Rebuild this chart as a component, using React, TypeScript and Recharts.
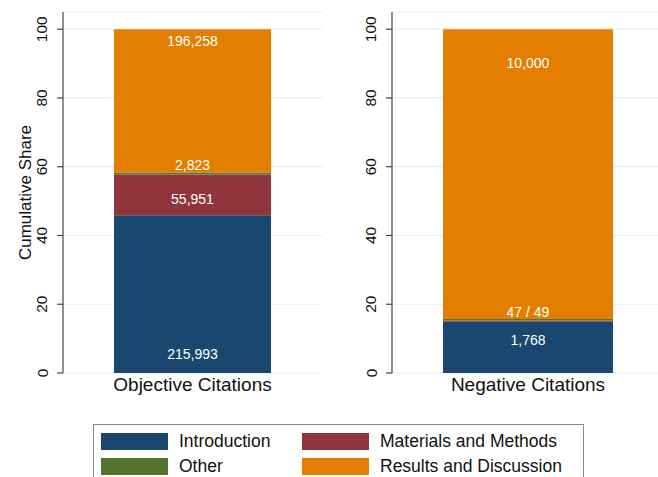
import { BarChart, Bar, XAxis, YAxis, CartesianGrid, LabelList } from "recharts";

const categories = ["Objective Citations", "Negative Citations"];
const introduction = [215993, 1768];
const methods = [55951, 47];
const other = [2823, 49];
const results = [196258, 10000];
const yTicks = [0, 20, 40, 60, 80, 100];

const fmt = (n: number) => n.toLocaleString("en-US");
const introLabels = introduction.map(fmt);
const methodsLabels = [fmt(methods[0]), ""];
const otherLabels = [fmt(other[0]), `${methods[1]} / ${other[1]}`];
const resultsLabels = results.map(fmt);

const series = [
  { key: "introduction", name: "Introduction", color: "#1a476f", counts: introduction, labels: introLabels },
  { key: "methods", name: "Materials and Methods", color: "#90353b", counts: methods, labels: methodsLabels },
  { key: "other", name: "Other", color: "#55752f", counts: other, labels: otherLabels },
  { key: "results", name: "Results and Discussion", color: "#e37e00", counts: results, labels: resultsLabels },
];

const FONT = "'Liberation Sans', Arial, Helvetica, sans-serif";
const AXIS = "#444";

// where each segment's count sits, relative to its band
function labelY(key: string, panel: number, y: number, h: number) {
  if (key === "introduction") return panel === 0 ? y + h - 19 : y + 18;
  if (key === "methods") return y + h / 2 + 4;
  if (key === "other") return y - 7;
  return panel === 0 ? y + 12 : y + 34;
}

function YTick({ x, y, payload }: any) {
  const cx = x - 13;
  return (
    <text
      x={cx}
      y={y}
      transform={`rotate(-90 ${cx} ${y})`}
      textAnchor="middle"
      dominantBaseline="central"
      fontSize={15.5}
      fill="#111"
      fontFamily={FONT}
    >
      {payload.value}
    </text>
  );
}

function CategoryTick({ x, y, payload }: any) {
  return (
    <text x={x} y={y + 18} textAnchor="middle" fontSize={19} fill="#111" fontFamily={FONT}>
      {payload.value}
    </text>
  );
}

function Panel({ panel, left, width, axisWidth, barSize }: any) {
  // cumulative share: each section's count as a percent of the column total
  const total = series.reduce((sum, s) => sum + s.counts[panel], 0);
  const row: Record<string, any> = { name: categories[panel] };
  series.forEach((s) => {
    row[s.key] = (s.counts[panel] / total) * 100;
  });
  const data = [row];
  return (
    <div style={{ position: "absolute", left, top: 0 }}>
      <BarChart
        width={width}
        height={400}
        data={data}
        barSize={barSize}
        margin={{ top: 12, right: 0, bottom: 0, left: 0 }}
      >
        <CartesianGrid vertical={false} stroke="#e3eef1" strokeWidth={1.2} />
        <XAxis
          dataKey="name"
          axisLine={false}
          tickLine={false}
          tickSize={0}
          tickMargin={0}
          height={27}
          interval={0}
          tick={<CategoryTick />}
        />
        <YAxis
          type="number"
          domain={[0, 105]}
          allowDataOverflow
          ticks={yTicks}
          width={axisWidth}
          tickSize={6}
          tickMargin={2}
          tickLine={{ stroke: AXIS, strokeWidth: 1.2 }}
          axisLine={{ stroke: AXIS, strokeWidth: 1.2 }}
          tick={<YTick />}
          label={
            panel === 0
              ? {
                  content: ({ viewBox }: any) => {
                    const cx = 25;
                    const cy = viewBox.y + viewBox.height / 2;
                    return (
                      <text
                        x={cx}
                        y={cy}
                        transform={`rotate(-90 ${cx} ${cy})`}
                        textAnchor="middle"
                        dominantBaseline="central"
                        fontSize={17}
                        fill="#111"
                        fontFamily={FONT}
                      >
                        Cumulative Share
                      </text>
                    );
                  },
                }
              : undefined
          }
        />
        {series.map((s) => (
          <Bar key={s.key} dataKey={s.key} name={s.name} stackId="a" fill={s.color} isAnimationActive={false}>
            <LabelList
              dataKey={s.key}
              content={(p: any) => {
                const text = s.labels[panel];
                if (!text) return null;
                return (
                  <text
                    x={p.x + p.width / 2}
                    y={labelY(s.key, panel, p.y, p.height)}
                    textAnchor="middle"
                    dominantBaseline="central"
                    fontSize={14}
                    fill="#ffffff"
                    fontFamily={FONT}
                  >
                    {text}
                  </text>
                );
              }}
            />
          </Bar>
        ))}
      </BarChart>
    </div>
  );
}

function LegendBox() {
  return (
    <div
      style={{
        position: "absolute",
        left: 93,
        top: 424,
        width: 491,
        height: 70,
        border: "1.5px solid #888",
        boxSizing: "border-box",
        fontFamily: FONT,
        fontSize: 17.5,
        color: "#111",
      }}
    >
      {series.map((s, i) => {
        const col = i % 2;
        const r = Math.floor(i / 2);
        return (
          <div
            key={s.key}
            style={{
              position: "absolute",
              left: col === 0 ? 7 : 208,
              top: 7 + r * 25,
              display: "flex",
              alignItems: "center",
              height: 18,
            }}
          >
            <div style={{ width: 67, height: 17, background: s.color, marginRight: 11 }} />
            <span style={{ whiteSpace: "nowrap" }}>{s.name}</span>
          </div>
        );
      })}
    </div>
  );
}

export default function App() {
  return (
    <div
      style={{
        position: "absolute",
        left: 0,
        top: 0,
        width: 658,
        height: 477,
        overflow: "hidden",
        background: "#fff",
      }}
    >
      <Panel panel={0} left={0} width={322} axisWidth={63} barSize={157} />
      <Panel panel={1} left={330} width={334} axisWidth={62} barSize={170} />
      <LegendBox />
    </div>
  );
}
